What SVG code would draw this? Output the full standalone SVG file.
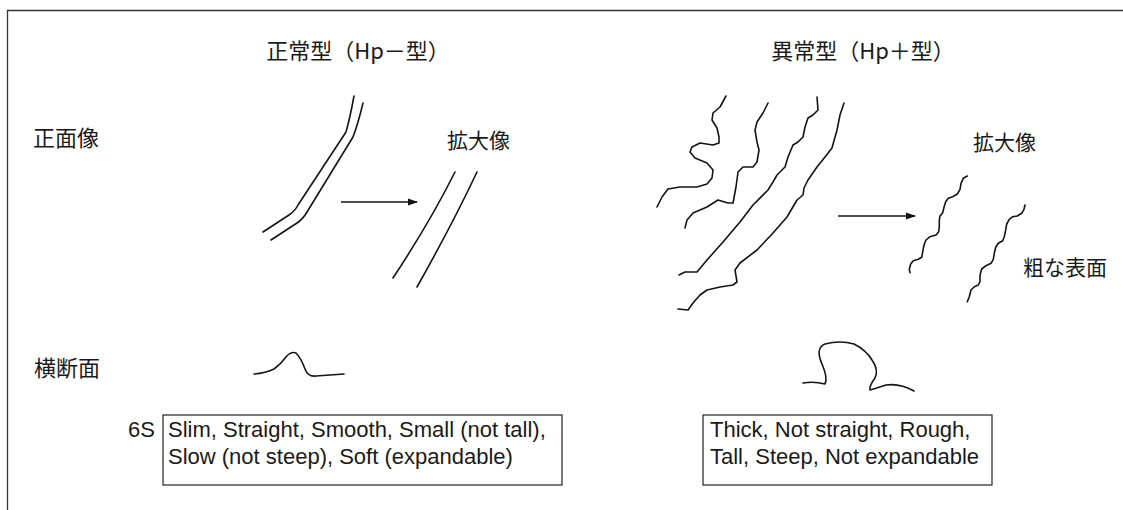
<svg xmlns="http://www.w3.org/2000/svg" width="1123" height="510" viewBox="0 0 1123 510">
  <style>
    .jp { font-family: "Noto Sans CJK JP", "Noto Sans", sans-serif; fill: #1a1a1a; }
    .t22 { font-size: 22px; }
    .t21 { font-size: 21px; }
    .en { font-family: "Liberation Sans", Arial, sans-serif; font-size: 22px; fill: #1a1a1a; }
    .fiber { fill: none; stroke: #141414; stroke-width: 1.6; stroke-linecap: round; stroke-linejoin: round; }
    .frame { fill: none; stroke: #333; stroke-width: 1.3; }
    .box { fill: #fff; stroke: #222; stroke-width: 1.2; }
    .arrow { fill: none; stroke: #141414; stroke-width: 1.5; }
  </style>
  <defs>
    <marker id="head" markerWidth="10" markerHeight="8" refX="9" refY="4" orient="auto" markerUnits="userSpaceOnUse">
      <path d="M0,0.5 L10,4 L0,7.5 Z" fill="#141414"/>
    </marker>
  </defs>

  <rect width="1123" height="510" fill="#fff"/>

  <!-- outer frame (top and left edges) -->
  <path class="frame" d="M7.5,510 V10.5 H1123"/>

  <!-- row labels -->
  <g id="label-front">
    <text class="jp t22" x="33" y="146">正面像</text>
  </g>
  <g id="label-section">
    <text class="jp t22" x="34" y="376">横断面</text>
  </g>

  <!-- normal type column -->
  <g id="normal-title">
    <text class="jp t22" x="358" y="59" text-anchor="middle">正常型（Hp－型）</text>
  </g>
  <g id="normal-fibril">
    <path class="fiber" d="M354,96 Q350,118 346,132 L298,205 Q295,211 289,215 L263,232"/>
    <path class="fiber" d="M363,103 Q358,124 353,137 L307,212 Q303,219 297,223 L271,240"/>
  </g>
  <g id="normal-enlarged">
    <text class="jp t21" x="447" y="148">拡大像</text>
    <path class="fiber" d="M455,172 Q430,222 393,278"/>
    <path class="fiber" d="M477,172 Q452,225 417,287"/>
  </g>
  <g id="normal-section">
    <path class="fiber" d="M254,374 Q266,373 274,369 Q281,364 286,357 Q291,351 296,353 Q301,358 305,369 Q308,377 316,376 L344,374"/>
  </g>
  <g id="normal-6s">
    <text class="en" x="128" y="437">6S</text>
    <rect class="box" x="163" y="415" width="399" height="70"/>
    <text class="en" x="168" y="437">Slim, Straight, Smooth, Small (not tall),</text>
    <text class="en" x="168" y="464">Slow (not steep), Soft (expandable)</text>
  </g>

  <!-- abnormal type column -->
  <g id="abnormal-title">
    <text class="jp t22" x="863" y="59" text-anchor="middle">異常型（Hp＋型）</text>
  </g>
  <g id="abnormal-fibril">
    <polyline class="fiber" points="726,96 720,107 713,113 712,120 717,128 719,137 719,143 713,145 700,143 692,147 690,152 695,158 707,163 713,170 712,178 707,184 697,187 680,187 668,189 662,197 657,207"/>
    <polyline class="fiber" points="768,103 763,113 757,122 755,130 757,142 759,150 757,162 753,167 743,167 738,172 736,187 733,203 728,203 718,200 707,207 693,213 687,220 685,228"/>
    <polyline class="fiber" points="817,97 818,110 813,115 808,118 805,127 803,137 798,142 793,145 788,157 785,167 777,175 773,182 768,190 753,205 740,222 723,242 707,260 697,272 685,272 679,275"/>
    <polyline class="fiber" points="844,103 840,115 837,130 832,148 825,157 817,167 808,180 804,188 803,195 797,200 787,217 773,233 757,250 740,263 735,270 737,282 733,285 720,287 707,290 700,295 693,303 688,310 678,309"/>
  </g>
  <g id="abnormal-enlarged">
    <text class="jp t21" x="973" y="150">拡大像</text>
    <polyline class="fiber" points="967.3,176 963.3,178.3 961,183.3 960,189.3 957.3,194 952.7,196.7 948.3,198.3 945.7,201.7 944,207.3 942.7,212.7 940,216 939.3,220 939.3,226.7 938.7,231.7 936,235 930,236.7 926,240 924,245 922.7,251.7 921.7,257.3 918.3,259.3 913.3,260.7 910.7,264 909.3,269.3 910,272.7"/>
    <polyline class="fiber" points="1025,205 1024,209.3 1021.7,213.3 1017.3,216 1012.7,216.7 1009.3,219.3 1006.7,224 1005.7,230 1004.3,236.7 1002.7,240.7 998.3,243.3 995.7,247.3 994.3,253.3 993.3,259.3 991,263.3 986,265.7 981.7,269 980,275 980,281.7 978.3,285 974.3,286.7 971,290 969.3,296.7 967.3,301.7"/>
    <text class="jp t21" x="1023" y="275">粗な表面</text>
  </g>
  <g id="abnormal-section">
    <path class="fiber" d="M803,383 Q814,381 825,384 Q828,378 822,364 Q815,348 825,344 Q840,340 854,344 Q866,350 872,360 Q879,370 875,378 Q869,386 870,390 Q874,389 886,385 Q900,383 914,391"/>
  </g>
  <g id="abnormal-6s">
    <rect class="box" x="703" y="415" width="289" height="70"/>
    <text class="en" x="710" y="437">Thick, Not straight, Rough,</text>
    <text class="en" x="710" y="464">Tall, Steep, Not expandable</text>
  </g>

  <!-- connectors -->
  <g id="connectors">
    <line class="arrow" x1="341" y1="202" x2="417" y2="202" marker-end="url(#head)"/>
    <line class="arrow" x1="838" y1="216" x2="915" y2="216" marker-end="url(#head)"/>
  </g>
</svg>
